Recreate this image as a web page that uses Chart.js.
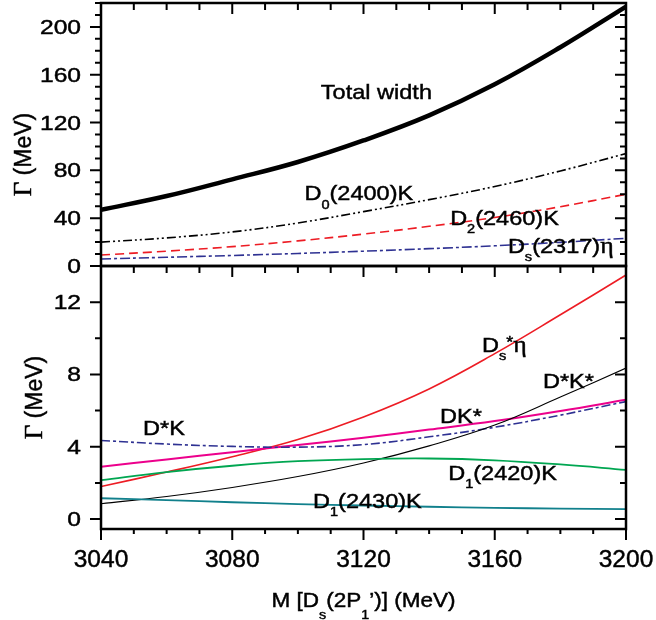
<!DOCTYPE html>
<html>
<head>
<meta charset="utf-8">
<script src="https://cdn.jsdelivr.net/npm/chart.js@4.4.1/dist/chart.umd.min.js"></script>
<style>
  html, body { margin: 0; background: #fff; }
  #wrap { position: relative; width: 656px; height: 620px; overflow: hidden; }
  #wrap canvas { position: absolute; left: 0; }
</style>
</head>
<body>
<div id="wrap">
  <canvas id="upper" width="656" height="282" style="top:0"></canvas>
  <canvas id="lower" width="656" height="358" style="top:262px"></canvas>
</div>
<script>
// masses of the Ds(2P1') state, MeV
const masses = [3040, 3060, 3080, 3100, 3120, 3140, 3160, 3180, 3200];

// upper panel widths (MeV)
const totalWidth = [47, 58.5, 72.5, 87, 105, 126, 152, 183, 217];
const d0K = [20, 23.5, 28.5, 36, 45.5, 55.5, 66.5, 79.5, 94];
const d2K = [9.2, 12.4, 16.2, 21, 26.7, 33.2, 40.6, 49.6, 60];
const ds2317Eta = [5.9, 7.3, 8.8, 10.5, 12.4, 14.5, 16.9, 19.8, 23.2];

// lower panel widths (MeV)
const dsStarEta = [1.8, 2.6, 3.45, 4.4, 5.65, 7.2, 9.15, 11.3, 13.5];
const dStarKStar = [0.85, 1.25, 1.75, 2.35, 3.1, 4.05, 5.2, 6.75, 8.35];
const dKStar = [2.9, 3.3, 3.7, 4.1, 4.5, 4.95, 5.42, 5.98, 6.6];
const dStarK = [4.35, 4.15, 4.02, 3.98, 4.12, 4.55, 5.08, 5.75, 6.5];
const d1_2420K = [2.15, 2.6, 2.95, 3.2, 3.32, 3.35, 3.25, 3.02, 2.72];
const d1_2430K = [1.15, 1.05, 0.93, 0.83, 0.75, 0.68, 0.62, 0.58, 0.55];

// tick labels
const xTicks = [3040, 3080, 3120, 3160, 3200];
const upperTicks = [0, 40, 80, 120, 160, 200];
const lowerTicks = [0, 4, 8, 12];

const SANS = '"Liberation Sans", Arial, Helvetica, sans-serif';
const SERIF = '"Liberation Serif", "Times New Roman", serif';

function series(values, color, width, dash) {
  return {
    data: masses.map((m, i) => ({ x: m, y: values[i] })),
    borderColor: color,
    borderWidth: width,
    borderDash: dash || [],
    pointRadius: 0,
    fill: false,
    tension: 0.4
  };
}

// draws text made of pieces: plain strings, {sub: ''}, {sup: ''} or {t: ''} (serif glyph)
function rich(ctx, parts, x, y, size, sx, align, drop) {
  drop = drop || 0.4;
  const pieces = parts.map(p => {
    if (typeof p === 'string') return { s: p, font: size + 'px ' + SANS, dy: 0 };
    if (p.sub) return { s: p.sub, font: '13px ' + SANS, dy: size * drop };
    if (p.sup) return { s: p.sup, font: '16px ' + SANS, dy: -4 };
    return { s: p.t, font: (size + 2) + 'px ' + SERIF, dy: 0 };
  });
  let w = 0;
  pieces.forEach(p => { ctx.font = p.font; w += ctx.measureText(p.s).width; });
  let x0 = x;
  if (align === 'center') x0 = x - w * sx / 2;
  if (align === 'right') x0 = x - w * sx;
  ctx.save();
  ctx.translate(x0, y);
  ctx.scale(sx, 1);
  ctx.textAlign = 'left';
  ctx.textBaseline = 'alphabetic';
  ctx.lineWidth = 0.45;
  let cx = 0;
  pieces.forEach(p => {
    ctx.font = p.font;
    ctx.fillText(p.s, cx, p.dy);
    ctx.strokeText(p.s, cx, p.dy);
    cx += ctx.measureText(p.s).width;
  });
  ctx.restore();
}

function framePlugin(cfg) {
  return {
    id: 'frame',
    afterDraw(chart) {
      const ctx = chart.ctx, a = chart.chartArea;
      const xs = chart.scales.x, ys = chart.scales.y;
      ctx.save();
      ctx.strokeStyle = '#000';
      ctx.fillStyle = '#000';

      // tick marks
      ctx.lineWidth = 2;
      ctx.beginPath();
      for (let v = 3040; v <= 3200; v += 10) {
        const px = xs.getPixelForValue(v);
        const major = (v - 3040) % 40 === 0;
        ctx.moveTo(px, a.top);
        ctx.lineTo(px, a.top + (major ? 11 : 7));
        if (cfg.xAxis) {
          ctx.moveTo(px, a.bottom);
          ctx.lineTo(px, a.bottom + (major ? 11 : 5));
        }
      }
      for (let v = cfg.min; v <= cfg.top + 1e-9; v += cfg.minor) {
        const py = ys.getPixelForValue(v);
        const len = cfg.ticks.includes(v) ? 11 : 6;
        ctx.moveTo(a.left, py); ctx.lineTo(a.left - len, py);
        ctx.moveTo(a.right, py); ctx.lineTo(a.right - len, py);
      }
      ctx.stroke();

      ctx.lineWidth = 2.5;
      ctx.strokeRect(a.left, a.top, a.right - a.left, a.bottom - a.top);

      // tick labels
      cfg.ticks.forEach(v => {
        rich(ctx, [String(v)], a.left - 20, ys.getPixelForValue(v) + 7, 20, 1.23, 'right');
      });
      if (cfg.xAxis) {
        xTicks.forEach(v => {
          rich(ctx, [String(v)], xs.getPixelForValue(v), a.bottom + 38, 24.5, 1, 'center');
        });
        rich(ctx, ['M [D', { sub: 's' }, '(2P', { sub: '1' }, '\u2019)] (MeV)'],
          (a.left + a.right) / 2, a.bottom + 78, 20.5, 1.1, 'center', 0.6);
      }

      // axis title
      ctx.save();
      ctx.translate(cfg.titleX, (a.top + a.bottom) / 2 + cfg.titleShift);
      ctx.rotate(-Math.PI / 2);
      rich(ctx, [{ t: '\u0393' }, ' (MeV)'], 0, 0, 23, 1, 'center');
      ctx.restore();

      // curve labels
      cfg.labels.forEach(l => {
        rich(ctx, l.parts, xs.getPixelForValue(l.at[0]), ys.getPixelForValue(l.at[1]), 21, 1.12, 'left');
      });
      ctx.restore();
    }
  };
}

function panel(id, datasets, min, max, padding, cfg) {
  return new Chart(document.getElementById(id), {
    type: 'line',
    data: { datasets: datasets },
    options: {
      responsive: false,
      animation: false,
      events: [],
      layout: { padding: padding },
      plugins: { legend: { display: false }, tooltip: { enabled: false } },
      scales: {
        x: { type: 'linear', min: 3040, max: 3200, display: false },
        y: { type: 'linear', min: min, max: max, display: false }
      }
    },
    plugins: [framePlugin(cfg)]
  });
}

const RED = '#ed1c24', NAVY = '#2e3192', MAGENTA = '#ec008c', GREEN = '#00a651', TEAL = '#11808c';

panel('upper', [
  series(ds2317Eta, NAVY, 1.6, [10, 3, 3, 3]),
  series(d2K, RED, 1.6, [9, 5]),
  series(d0K, '#000', 1.6, [9, 3, 2, 3, 2, 3]),
  series(totalWidth, '#000', 4.5)
], 0, 220, { left: 101, right: 30, top: 3, bottom: 16 }, {
  min: 0, top: 220, minor: 10, ticks: upperTicks, xAxis: false,
  titleX: 31, titleShift: 20,
  labels: [
    { parts: ['Total width'], at: [3107, 140] },
    { parts: ['D', { sub: '0' }, '(2400)K'], at: [3102, 55] },
    { parts: ['D', { sub: '2' }, '(2460)K'], at: [3146.4, 34.3] },
    { parts: ['D', { sub: 's' }, '(2317)', { t: '\u03b7' }], at: [3164, 10.9] }
  ]
});

panel('lower', [
  series(d1_2430K, TEAL, 1.8),
  series(d1_2420K, GREEN, 1.8),
  series(dStarKStar, '#000', 1.1),
  series(dStarK, NAVY, 1.6, [9, 3, 3, 3]),
  series(dKStar, MAGENTA, 2),
  series(dsStarEta, RED, 1.6)
], -0.55, 14, { left: 101, right: 30, top: 4, bottom: 91 }, {
  min: 0, top: 14, minor: 2, ticks: lowerTicks, xAxis: true,
  titleX: 42, titleShift: 0,
  labels: [
    { parts: ['D*K'], at: [3052.8, 4.65] },
    { parts: ['D', { sub: 's' }, { sup: '*' }, { t: '\u03b7' }], at: [3156.1, 9.24] },
    { parts: ['D*K*'], at: [3174.7, 7.25] },
    { parts: ['DK*'], at: [3143.3, 5.31] },
    { parts: ['D', { sub: '1' }, '(2420)K'], at: [3145.8, 2.16] },
    { parts: ['D', { sub: '1' }, '(2430)K'], at: [3104.6, 0.61] }
  ]
});
</script>
</body>
</html>
